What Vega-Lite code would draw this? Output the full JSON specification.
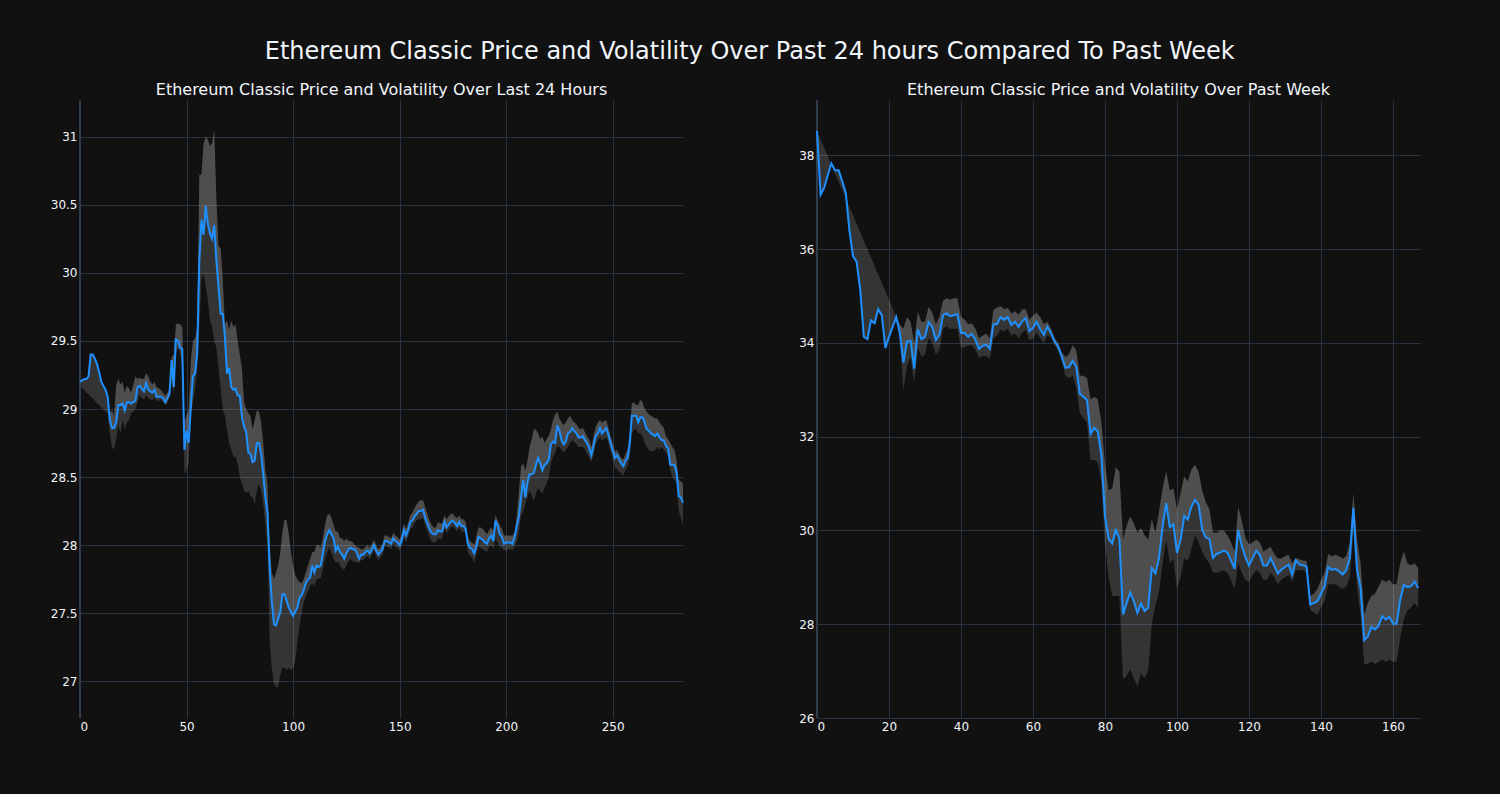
{
"$schema": "https://vega.github.io/schema/vega-lite/v6.json",
"background": "#111111",
"padding": {"left": 50, "top": 40, "right": 77, "bottom": 62},
"title": {"text": "Ethereum Classic Price and Volatility Over Past 24 hours Compared To Past Week", "fontSize": 24, "color": "#f2f5fa", "font": "DejaVu Sans", "fontWeight": "normal", "anchor": "middle", "offset": 18, "dx": 13.5},
"config": {
  "view": {"stroke": null},
  "font": "DejaVu Sans",
  "axis": {"grid": true, "gridColor": "#283442", "gridWidth": 1, "domain": false, "ticks": false, "labelColor": "#f2f5fa", "labelFontSize": 12, "title": null, "labelPadding": 3},
  "title": {"color": "#f2f5fa", "fontWeight": "normal"}
},
"spacing": 111,
"datasets": {
"h24": [
{"x":0,"p":29.20,"lo":29.17,"hi":29.20},{"x":1,"p":29.21,"lo":29.155,"hi":29.21},{"x":2,"p":29.22,"lo":29.14,"hi":29.22},{"x":3,"p":29.22,"lo":29.12,"hi":29.22},{"x":4,"p":29.24,"lo":29.11,"hi":29.24},{"x":5,"p":29.40,"lo":29.09,"hi":29.40},{"x":6,"p":29.40,"lo":29.08,"hi":29.40},{"x":7,"p":29.37,"lo":29.06,"hi":29.37},{"x":8,"p":29.33,"lo":29.04,"hi":29.33},{"x":9,"p":29.27,"lo":29.03,"hi":29.27},
{"x":10,"p":29.20,"lo":29.01,"hi":29.20},{"x":11,"p":29.17,"lo":29.00,"hi":29.17},{"x":12,"p":29.14,"lo":28.98,"hi":29.14},{"x":13,"p":29.09,"lo":28.97,"hi":29.09},{"x":14,"p":28.92,"lo":28.82,"hi":28.97},{"x":15,"p":28.86,"lo":28.72,"hi":28.99},{"x":16,"p":28.86,"lo":28.70,"hi":28.95},{"x":17,"p":28.90,"lo":28.78,"hi":29.18},{"x":18,"p":29.03,"lo":28.88,"hi":29.22},{"x":19,"p":29.03,"lo":28.82,"hi":29.18},
{"x":20,"p":29.04,"lo":28.92,"hi":29.20},{"x":21,"p":28.99,"lo":28.85,"hi":29.12},{"x":22,"p":29.05,"lo":28.90,"hi":29.17},{"x":23,"p":29.05,"lo":28.92,"hi":29.15},{"x":24,"p":29.04,"lo":28.97,"hi":29.12},{"x":25,"p":29.05,"lo":28.98,"hi":29.18},{"x":26,"p":29.06,"lo":29.00,"hi":29.24},{"x":27,"p":29.16,"lo":29.05,"hi":29.22},{"x":28,"p":29.17,"lo":29.10,"hi":29.23},{"x":29,"p":29.15,"lo":29.08,"hi":29.22},
{"x":30,"p":29.13,"lo":29.07,"hi":29.22},{"x":31,"p":29.19,"lo":29.10,"hi":29.26},{"x":32,"p":29.14,"lo":29.08,"hi":29.24},{"x":33,"p":29.13,"lo":29.07,"hi":29.20},{"x":34,"p":29.12,"lo":29.07,"hi":29.18},{"x":35,"p":29.14,"lo":29.08,"hi":29.20},{"x":36,"p":29.09,"lo":29.06,"hi":29.16},{"x":37,"p":29.09,"lo":29.06,"hi":29.15},{"x":38,"p":29.09,"lo":29.07,"hi":29.14},{"x":39,"p":29.08,"lo":29.05,"hi":29.12},
{"x":40,"p":29.05,"lo":29.03,"hi":29.10},{"x":41,"p":29.08,"lo":29.04,"hi":29.12},{"x":42,"p":29.11,"lo":29.08,"hi":29.14},{"x":43,"p":29.36,"lo":29.20,"hi":29.38},{"x":44,"p":29.16,"lo":29.12,"hi":29.40},{"x":45,"p":29.51,"lo":29.40,"hi":29.62},{"x":46,"p":29.50,"lo":29.45,"hi":29.63},{"x":47,"p":29.45,"lo":29.40,"hi":29.62},{"x":48,"p":29.44,"lo":29.30,"hi":29.60},{"x":49,"p":28.70,"lo":28.52,"hi":28.90},
{"x":50,"p":28.84,"lo":28.55,"hi":28.95},{"x":51,"p":28.75,"lo":28.60,"hi":29.00},{"x":52,"p":29.01,"lo":28.95,"hi":29.35},{"x":53,"p":29.24,"lo":29.05,"hi":29.50},{"x":54,"p":29.26,"lo":29.15,"hi":29.52},{"x":55,"p":29.41,"lo":29.30,"hi":29.60},{"x":56,"p":30.09,"lo":29.60,"hi":30.72},{"x":57,"p":30.39,"lo":29.95,"hi":30.72},{"x":58,"p":30.28,"lo":30.00,"hi":30.95},{"x":59,"p":30.49,"lo":29.90,"hi":31.00},
{"x":60,"p":30.36,"lo":29.80,"hi":30.98},{"x":61,"p":30.29,"lo":29.65,"hi":30.93},{"x":62,"p":30.25,"lo":29.60,"hi":30.95},{"x":63,"p":30.35,"lo":29.50,"hi":31.05},{"x":64,"p":30.09,"lo":29.45,"hi":30.55},{"x":65,"p":29.90,"lo":29.30,"hi":30.20},{"x":66,"p":29.70,"lo":29.15,"hi":30.18},{"x":67,"p":29.70,"lo":29.00,"hi":29.95},{"x":68,"p":29.53,"lo":28.95,"hi":29.62},{"x":69,"p":29.26,"lo":28.85,"hi":29.65},
{"x":70,"p":29.30,"lo":28.75,"hi":29.58},{"x":71,"p":29.16,"lo":28.70,"hi":29.65},{"x":72,"p":29.14,"lo":28.65,"hi":29.60},{"x":73,"p":29.15,"lo":28.65,"hi":29.62},{"x":74,"p":29.10,"lo":28.60,"hi":29.50},{"x":75,"p":29.10,"lo":28.50,"hi":29.40},{"x":76,"p":28.94,"lo":28.45,"hi":29.30},{"x":77,"p":28.87,"lo":28.40,"hi":29.05},{"x":78,"p":28.83,"lo":28.38,"hi":29.00},{"x":79,"p":28.68,"lo":28.40,"hi":28.97},
{"x":80,"p":28.67,"lo":28.36,"hi":28.95},{"x":81,"p":28.61,"lo":28.35,"hi":28.85},{"x":82,"p":28.62,"lo":28.30,"hi":28.92},{"x":83,"p":28.75,"lo":28.40,"hi":28.99},{"x":84,"p":28.75,"lo":28.45,"hi":28.98},{"x":85,"p":28.67,"lo":28.40,"hi":28.90},{"x":86,"p":28.52,"lo":28.30,"hi":28.75},{"x":87,"p":28.35,"lo":28.15,"hi":28.55},{"x":88,"p":28.23,"lo":28.00,"hi":28.45},{"x":89,"p":27.84,"lo":27.30,"hi":28.00},
{"x":90,"p":27.59,"lo":27.10,"hi":27.80},{"x":91,"p":27.42,"lo":26.98,"hi":27.75},{"x":92,"p":27.41,"lo":26.96,"hi":27.80},{"x":93,"p":27.46,"lo":26.96,"hi":27.85},{"x":94,"p":27.51,"lo":27.05,"hi":27.95},{"x":95,"p":27.64,"lo":27.10,"hi":28.10},{"x":96,"p":27.64,"lo":27.10,"hi":28.19},{"x":97,"p":27.59,"lo":27.08,"hi":28.18},{"x":98,"p":27.54,"lo":27.10,"hi":28.08},{"x":99,"p":27.51,"lo":27.08,"hi":27.95},
{"x":100,"p":27.48,"lo":27.10,"hi":27.85},{"x":101,"p":27.51,"lo":27.15,"hi":27.78},{"x":102,"p":27.54,"lo":27.28,"hi":27.75},{"x":103,"p":27.61,"lo":27.40,"hi":27.73},{"x":104,"p":27.63,"lo":27.50,"hi":27.72},{"x":105,"p":27.67,"lo":27.58,"hi":27.75},{"x":106,"p":27.72,"lo":27.62,"hi":27.80},{"x":107,"p":27.75,"lo":27.66,"hi":27.85},{"x":108,"p":27.76,"lo":27.70,"hi":27.90},{"x":109,"p":27.85,"lo":27.72,"hi":27.95},
{"x":110,"p":27.80,"lo":27.70,"hi":27.95},{"x":111,"p":27.85,"lo":27.75,"hi":28.00},{"x":112,"p":27.84,"lo":27.75,"hi":28.00},{"x":113,"p":27.85,"lo":27.76,"hi":27.98},{"x":114,"p":27.94,"lo":27.82,"hi":28.05},{"x":115,"p":28.03,"lo":27.90,"hi":28.15},{"x":116,"p":28.08,"lo":27.95,"hi":28.22},{"x":117,"p":28.11,"lo":27.98,"hi":28.23},{"x":118,"p":28.08,"lo":27.95,"hi":28.20},{"x":119,"p":28.05,"lo":27.90,"hi":28.15},
{"x":120,"p":27.96,"lo":27.87,"hi":28.10},{"x":121,"p":27.99,"lo":27.88,"hi":28.10},{"x":122,"p":27.95,"lo":27.85,"hi":28.05},{"x":123,"p":27.93,"lo":27.83,"hi":28.05},{"x":124,"p":27.90,"lo":27.82,"hi":28.03},{"x":125,"p":27.94,"lo":27.85,"hi":28.05},{"x":126,"p":27.97,"lo":27.88,"hi":28.03},{"x":127,"p":27.98,"lo":27.90,"hi":28.03},{"x":128,"p":27.97,"lo":27.88,"hi":28.02},{"x":129,"p":27.97,"lo":27.88,"hi":28.00},
{"x":130,"p":27.94,"lo":27.87,"hi":27.99},{"x":131,"p":27.90,"lo":27.87,"hi":27.98},{"x":132,"p":27.93,"lo":27.89,"hi":27.97},{"x":133,"p":27.93,"lo":27.89,"hi":27.97},{"x":134,"p":27.95,"lo":27.91,"hi":27.99},{"x":135,"p":27.96,"lo":27.92,"hi":28.00},{"x":136,"p":27.94,"lo":27.90,"hi":27.98},{"x":137,"p":27.97,"lo":27.93,"hi":28.01},{"x":138,"p":28.00,"lo":27.96,"hi":28.04},{"x":139,"p":27.96,"lo":27.92,"hi":28.00},
{"x":140,"p":27.93,"lo":27.89,"hi":27.97},{"x":141,"p":27.95,"lo":27.91,"hi":27.99},{"x":142,"p":27.97,"lo":27.93,"hi":28.01},{"x":143,"p":28.03,"lo":27.99,"hi":28.07},{"x":144,"p":28.03,"lo":27.99,"hi":28.07},{"x":145,"p":28.02,"lo":27.98,"hi":28.06},{"x":146,"p":28.01,"lo":27.97,"hi":28.05},{"x":147,"p":28.05,"lo":28.01,"hi":28.09},{"x":148,"p":28.03,"lo":27.99,"hi":28.07},{"x":149,"p":28.02,"lo":27.98,"hi":28.06},
{"x":150,"p":28.00,"lo":27.96,"hi":28.04},{"x":151,"p":28.03,"lo":27.99,"hi":28.08},{"x":152,"p":28.11,"lo":28.06,"hi":28.16},{"x":153,"p":28.07,"lo":28.02,"hi":28.12},{"x":154,"p":28.11,"lo":28.06,"hi":28.16},{"x":155,"p":28.17,"lo":28.12,"hi":28.22},{"x":156,"p":28.18,"lo":28.13,"hi":28.24},{"x":157,"p":28.21,"lo":28.16,"hi":28.27},{"x":158,"p":28.23,"lo":28.18,"hi":28.30},{"x":159,"p":28.25,"lo":28.19,"hi":28.32},
{"x":160,"p":28.25,"lo":28.19,"hi":28.33},{"x":161,"p":28.26,"lo":28.20,"hi":28.33},{"x":162,"p":28.20,"lo":28.14,"hi":28.28},{"x":163,"p":28.16,"lo":28.10,"hi":28.23},{"x":164,"p":28.12,"lo":28.06,"hi":28.18},{"x":165,"p":28.09,"lo":28.03,"hi":28.15},{"x":166,"p":28.08,"lo":28.02,"hi":28.13},{"x":167,"p":28.08,"lo":28.02,"hi":28.13},{"x":168,"p":28.11,"lo":28.05,"hi":28.17},{"x":169,"p":28.10,"lo":28.04,"hi":28.16},
{"x":170,"p":28.10,"lo":28.05,"hi":28.16},{"x":171,"p":28.17,"lo":28.12,"hi":28.22},{"x":172,"p":28.13,"lo":28.09,"hi":28.19},{"x":173,"p":28.15,"lo":28.11,"hi":28.21},{"x":174,"p":28.17,"lo":28.13,"hi":28.23},{"x":175,"p":28.18,"lo":28.14,"hi":28.23},{"x":176,"p":28.16,"lo":28.12,"hi":28.21},{"x":177,"p":28.14,"lo":28.10,"hi":28.20},{"x":178,"p":28.17,"lo":28.13,"hi":28.22},{"x":179,"p":28.14,"lo":28.10,"hi":28.19},
{"x":180,"p":28.14,"lo":28.10,"hi":28.19},{"x":181,"p":28.12,"lo":28.08,"hi":28.17},{"x":182,"p":28.01,"lo":27.95,"hi":28.06},{"x":183,"p":27.98,"lo":27.92,"hi":28.03},{"x":184,"p":27.97,"lo":27.91,"hi":28.02},{"x":185,"p":27.94,"lo":27.87,"hi":28.00},{"x":186,"p":27.99,"lo":27.93,"hi":28.06},{"x":187,"p":28.06,"lo":27.99,"hi":28.13},{"x":188,"p":28.05,"lo":27.98,"hi":28.13},{"x":189,"p":28.04,"lo":27.97,"hi":28.12},
{"x":190,"p":28.02,"lo":27.96,"hi":28.10},{"x":191,"p":28.01,"lo":27.95,"hi":28.08},{"x":192,"p":28.05,"lo":27.99,"hi":28.11},{"x":193,"p":28.07,"lo":28.00,"hi":28.13},{"x":194,"p":28.03,"lo":27.97,"hi":28.10},{"x":195,"p":28.18,"lo":28.05,"hi":28.22},{"x":196,"p":28.14,"lo":28.02,"hi":28.18},{"x":197,"p":28.08,"lo":27.99,"hi":28.15},{"x":198,"p":28.06,"lo":27.98,"hi":28.12},{"x":199,"p":28.01,"lo":27.96,"hi":28.07},
{"x":200,"p":28.02,"lo":27.96,"hi":28.07},{"x":201,"p":28.02,"lo":27.97,"hi":28.07},{"x":202,"p":28.02,"lo":27.97,"hi":28.07},{"x":203,"p":28.01,"lo":27.96,"hi":28.07},{"x":204,"p":28.06,"lo":27.99,"hi":28.10},{"x":205,"p":28.14,"lo":28.03,"hi":28.22},{"x":206,"p":28.21,"lo":28.10,"hi":28.40},{"x":207,"p":28.35,"lo":28.22,"hi":28.58},{"x":208,"p":28.48,"lo":28.25,"hi":28.60},{"x":209,"p":28.35,"lo":28.30,"hi":28.55},
{"x":210,"p":28.46,"lo":28.35,"hi":28.62},{"x":211,"p":28.52,"lo":28.40,"hi":28.72},{"x":212,"p":28.52,"lo":28.36,"hi":28.78},{"x":213,"p":28.53,"lo":28.33,"hi":28.85},{"x":214,"p":28.59,"lo":28.38,"hi":28.85},{"x":215,"p":28.64,"lo":28.42,"hi":28.82},{"x":216,"p":28.60,"lo":28.40,"hi":28.78},{"x":217,"p":28.55,"lo":28.38,"hi":28.80},{"x":218,"p":28.59,"lo":28.42,"hi":28.75},{"x":219,"p":28.60,"lo":28.45,"hi":28.78},
{"x":220,"p":28.63,"lo":28.50,"hi":28.80},{"x":221,"p":28.74,"lo":28.60,"hi":28.85},{"x":222,"p":28.76,"lo":28.65,"hi":28.92},{"x":223,"p":28.75,"lo":28.68,"hi":28.96},{"x":224,"p":28.88,"lo":28.72,"hi":28.98},{"x":225,"p":28.84,"lo":28.72,"hi":28.93},{"x":226,"p":28.77,"lo":28.70,"hi":28.90},{"x":227,"p":28.74,"lo":28.68,"hi":28.88},{"x":228,"p":28.76,"lo":28.70,"hi":28.90},{"x":229,"p":28.82,"lo":28.72,"hi":28.93},
{"x":230,"p":28.83,"lo":28.75,"hi":28.95},{"x":231,"p":28.86,"lo":28.77,"hi":28.92},{"x":232,"p":28.84,"lo":28.76,"hi":28.90},{"x":233,"p":28.82,"lo":28.74,"hi":28.89},{"x":234,"p":28.79,"lo":28.72,"hi":28.86},{"x":235,"p":28.79,"lo":28.72,"hi":28.85},{"x":236,"p":28.80,"lo":28.72,"hi":28.86},{"x":237,"p":28.77,"lo":28.70,"hi":28.83},{"x":238,"p":28.75,"lo":28.67,"hi":28.80},{"x":239,"p":28.71,"lo":28.64,"hi":28.77},
{"x":240,"p":28.66,"lo":28.61,"hi":28.72},{"x":241,"p":28.73,"lo":28.66,"hi":28.80},{"x":242,"p":28.80,"lo":28.74,"hi":28.87},{"x":243,"p":28.82,"lo":28.77,"hi":28.90},{"x":244,"p":28.86,"lo":28.79,"hi":28.92},{"x":245,"p":28.82,"lo":28.77,"hi":28.90},{"x":246,"p":28.84,"lo":28.78,"hi":28.91},{"x":247,"p":28.86,"lo":28.79,"hi":28.92},{"x":248,"p":28.81,"lo":28.75,"hi":28.86},{"x":249,"p":28.75,"lo":28.69,"hi":28.80},
{"x":250,"p":28.70,"lo":28.64,"hi":28.75},{"x":251,"p":28.64,"lo":28.57,"hi":28.69},{"x":252,"p":28.66,"lo":28.56,"hi":28.70},{"x":253,"p":28.63,"lo":28.54,"hi":28.67},{"x":254,"p":28.60,"lo":28.53,"hi":28.64},{"x":255,"p":28.58,"lo":28.51,"hi":28.63},{"x":256,"p":28.62,"lo":28.55,"hi":28.67},{"x":257,"p":28.64,"lo":28.58,"hi":28.70},{"x":258,"p":28.75,"lo":28.65,"hi":28.82},{"x":259,"p":28.95,"lo":28.82,"hi":29.04},
{"x":260,"p":28.95,"lo":28.85,"hi":29.05},{"x":261,"p":28.95,"lo":28.85,"hi":29.03},{"x":262,"p":28.90,"lo":28.82,"hi":29.03},{"x":263,"p":28.94,"lo":28.82,"hi":29.07},{"x":264,"p":28.94,"lo":28.80,"hi":29.05},{"x":265,"p":28.90,"lo":28.75,"hi":29.00},{"x":266,"p":28.85,"lo":28.72,"hi":28.98},{"x":267,"p":28.84,"lo":28.70,"hi":28.96},{"x":268,"p":28.82,"lo":28.69,"hi":28.95},{"x":269,"p":28.81,"lo":28.69,"hi":28.94},
{"x":270,"p":28.80,"lo":28.70,"hi":28.93},{"x":271,"p":28.82,"lo":28.72,"hi":28.93},{"x":272,"p":28.79,"lo":28.70,"hi":28.90},{"x":273,"p":28.77,"lo":28.72,"hi":28.88},{"x":274,"p":28.77,"lo":28.70,"hi":28.86},{"x":275,"p":28.73,"lo":28.68,"hi":28.80},{"x":276,"p":28.71,"lo":28.65,"hi":28.78},{"x":277,"p":28.59,"lo":28.55,"hi":28.75},{"x":278,"p":28.59,"lo":28.50,"hi":28.72},{"x":279,"p":28.59,"lo":28.48,"hi":28.70},
{"x":280,"p":28.53,"lo":28.45,"hi":28.62},{"x":281,"p":28.36,"lo":28.25,"hi":28.48},{"x":282,"p":28.35,"lo":28.20,"hi":28.47},{"x":283,"p":28.31,"lo":28.15,"hi":28.45}
],
"wk": [
{"x":0,"p":38.52,"lo":38.52,"hi":38.52},{"x":1,"p":37.16,"lo":38.34,"hi":37.16},{"x":2,"p":37.31,"lo":38.16,"hi":37.31},{"x":3,"p":37.58,"lo":37.98,"hi":37.58},{"x":4,"p":37.83,"lo":37.80,"hi":37.83},{"x":5,"p":37.68,"lo":37.62,"hi":37.68},{"x":6,"p":37.68,"lo":37.44,"hi":37.68},{"x":7,"p":37.45,"lo":37.26,"hi":37.45},{"x":8,"p":37.20,"lo":37.08,"hi":37.20},{"x":9,"p":36.40,"lo":36.90,"hi":36.40},
{"x":10,"p":35.85,"lo":36.72,"hi":35.85},{"x":11,"p":35.73,"lo":36.54,"hi":35.73},{"x":12,"p":35.14,"lo":36.36,"hi":35.14},{"x":13,"p":34.13,"lo":36.18,"hi":34.13},{"x":14,"p":34.08,"lo":36.00,"hi":34.08},{"x":15,"p":34.48,"lo":35.82,"hi":34.48},{"x":16,"p":34.42,"lo":35.64,"hi":34.42},{"x":17,"p":34.72,"lo":35.46,"hi":34.72},{"x":18,"p":34.59,"lo":35.28,"hi":34.59},{"x":19,"p":33.89,"lo":35.10,"hi":33.89},
{"x":20,"p":34.13,"lo":34.92,"hi":34.13},{"x":21,"p":34.34,"lo":34.74,"hi":34.34},{"x":22,"p":34.55,"lo":34.56,"hi":34.55},{"x":23,"p":34.21,"lo":34.10,"hi":34.40},{"x":24,"p":33.58,"lo":33.00,"hi":34.30},{"x":25,"p":34.03,"lo":33.50,"hi":34.55},{"x":26,"p":34.04,"lo":33.70,"hi":34.45},{"x":27,"p":33.45,"lo":33.15,"hi":34.00},{"x":28,"p":34.29,"lo":33.90,"hi":34.67},{"x":29,"p":34.08,"lo":33.70,"hi":34.45},
{"x":30,"p":34.13,"lo":33.75,"hi":34.45},{"x":31,"p":34.44,"lo":34.10,"hi":34.77},{"x":32,"p":34.34,"lo":34.00,"hi":34.65},{"x":33,"p":34.06,"lo":33.75,"hi":34.40},{"x":34,"p":34.17,"lo":33.85,"hi":34.55},{"x":35,"p":34.59,"lo":34.30,"hi":34.90},{"x":36,"p":34.63,"lo":34.35,"hi":34.95},{"x":37,"p":34.57,"lo":34.30,"hi":34.92},{"x":38,"p":34.59,"lo":34.30,"hi":34.95},{"x":39,"p":34.61,"lo":34.30,"hi":34.95},
{"x":40,"p":34.21,"lo":33.90,"hi":34.55},{"x":41,"p":34.21,"lo":33.90,"hi":34.50},{"x":42,"p":34.13,"lo":33.95,"hi":34.40},{"x":43,"p":34.19,"lo":33.95,"hi":34.42},{"x":44,"p":34.07,"lo":33.85,"hi":34.30},{"x":45,"p":33.87,"lo":33.68,"hi":34.10},{"x":46,"p":33.94,"lo":33.72,"hi":34.15},{"x":47,"p":33.96,"lo":33.72,"hi":34.20},{"x":48,"p":33.87,"lo":33.65,"hi":34.10},{"x":49,"p":34.40,"lo":34.10,"hi":34.70},
{"x":50,"p":34.40,"lo":34.15,"hi":34.75},{"x":51,"p":34.55,"lo":34.28,"hi":34.78},{"x":52,"p":34.49,"lo":34.25,"hi":34.72},{"x":53,"p":34.55,"lo":34.30,"hi":34.75},{"x":54,"p":34.38,"lo":34.15,"hi":34.62},{"x":55,"p":34.45,"lo":34.20,"hi":34.68},{"x":56,"p":34.34,"lo":34.10,"hi":34.60},{"x":57,"p":34.46,"lo":34.22,"hi":34.72},{"x":58,"p":34.53,"lo":34.28,"hi":34.72},{"x":59,"p":34.25,"lo":34.05,"hi":34.50},
{"x":60,"p":34.32,"lo":34.10,"hi":34.58},{"x":61,"p":34.45,"lo":34.22,"hi":34.65},{"x":62,"p":34.29,"lo":34.10,"hi":34.55},{"x":63,"p":34.17,"lo":34.00,"hi":34.40},{"x":64,"p":34.34,"lo":34.15,"hi":34.45},{"x":65,"p":34.21,"lo":34.12,"hi":34.30},{"x":66,"p":34.03,"lo":33.95,"hi":34.10},{"x":67,"p":33.92,"lo":33.82,"hi":34.00},{"x":68,"p":33.71,"lo":33.60,"hi":33.80},{"x":69,"p":33.47,"lo":33.30,"hi":33.70},
{"x":70,"p":33.48,"lo":33.25,"hi":33.75},{"x":71,"p":33.62,"lo":33.30,"hi":33.95},{"x":72,"p":33.49,"lo":33.05,"hi":33.85},{"x":73,"p":32.91,"lo":32.50,"hi":33.30},{"x":74,"p":32.85,"lo":32.40,"hi":33.30},{"x":75,"p":32.78,"lo":32.30,"hi":33.25},{"x":76,"p":32.06,"lo":31.50,"hi":32.80},{"x":77,"p":32.19,"lo":31.50,"hi":32.85},{"x":78,"p":32.11,"lo":31.45,"hi":32.80},{"x":79,"p":31.60,"lo":31.00,"hi":32.30},
{"x":80,"p":30.30,"lo":29.70,"hi":31.40},{"x":81,"p":29.82,"lo":29.00,"hi":30.85},{"x":82,"p":29.72,"lo":28.60,"hi":30.90},{"x":83,"p":30.01,"lo":28.60,"hi":31.35},{"x":84,"p":29.82,"lo":28.60,"hi":31.25},{"x":85,"p":28.21,"lo":26.82,"hi":29.80},{"x":86,"p":28.45,"lo":26.90,"hi":30.10},{"x":87,"p":28.68,"lo":27.04,"hi":30.30},{"x":88,"p":28.49,"lo":26.85,"hi":30.15},{"x":89,"p":28.24,"lo":26.68,"hi":29.95},
{"x":90,"p":28.44,"lo":26.95,"hi":30.05},{"x":91,"p":28.28,"lo":26.85,"hi":29.90},{"x":92,"p":28.35,"lo":27.00,"hi":29.80},{"x":93,"p":29.20,"lo":28.00,"hi":30.25},{"x":94,"p":29.08,"lo":28.40,"hi":29.95},{"x":95,"p":29.41,"lo":28.70,"hi":30.40},{"x":96,"p":30.09,"lo":29.30,"hi":30.90},{"x":97,"p":30.58,"lo":29.80,"hi":31.26},{"x":98,"p":30.07,"lo":29.30,"hi":30.85},{"x":99,"p":30.13,"lo":29.40,"hi":30.90},
{"x":100,"p":29.52,"lo":28.75,"hi":30.45},{"x":101,"p":29.80,"lo":29.00,"hi":30.80},{"x":102,"p":30.31,"lo":29.40,"hi":31.15},{"x":103,"p":30.23,"lo":29.35,"hi":31.05},{"x":104,"p":30.51,"lo":29.60,"hi":31.30},{"x":105,"p":30.65,"lo":29.90,"hi":31.40},{"x":106,"p":30.55,"lo":29.75,"hi":31.25},{"x":107,"p":30.01,"lo":29.55,"hi":30.85},{"x":108,"p":29.85,"lo":29.40,"hi":30.60},{"x":109,"p":29.82,"lo":29.30,"hi":30.45},
{"x":110,"p":29.41,"lo":29.10,"hi":29.95},{"x":111,"p":29.50,"lo":29.10,"hi":29.95},{"x":112,"p":29.53,"lo":29.12,"hi":30.00},{"x":113,"p":29.57,"lo":29.15,"hi":30.00},{"x":114,"p":29.53,"lo":29.10,"hi":29.90},{"x":115,"p":29.36,"lo":28.95,"hi":29.75},{"x":116,"p":29.18,"lo":28.75,"hi":29.55},{"x":117,"p":30.01,"lo":29.30,"hi":30.50},{"x":118,"p":29.67,"lo":29.10,"hi":30.20},{"x":119,"p":29.43,"lo":28.95,"hi":29.85},
{"x":120,"p":29.25,"lo":28.90,"hi":29.70},{"x":121,"p":29.41,"lo":29.05,"hi":29.75},{"x":122,"p":29.57,"lo":29.15,"hi":29.80},{"x":123,"p":29.48,"lo":29.10,"hi":29.75},{"x":124,"p":29.25,"lo":28.95,"hi":29.55},{"x":125,"p":29.25,"lo":28.95,"hi":29.60},{"x":126,"p":29.41,"lo":29.10,"hi":29.65},{"x":127,"p":29.25,"lo":29.00,"hi":29.50},{"x":128,"p":29.08,"lo":28.85,"hi":29.40},{"x":129,"p":29.16,"lo":28.95,"hi":29.40},
{"x":130,"p":29.22,"lo":29.00,"hi":29.45},{"x":131,"p":29.27,"lo":29.05,"hi":29.48},{"x":132,"p":29.06,"lo":28.90,"hi":29.30},{"x":133,"p":29.36,"lo":29.15,"hi":29.42},{"x":134,"p":29.27,"lo":29.15,"hi":29.38},{"x":135,"p":29.26,"lo":29.15,"hi":29.36},{"x":136,"p":29.23,"lo":29.10,"hi":29.35},{"x":137,"p":28.42,"lo":28.30,"hi":28.60},{"x":138,"p":28.45,"lo":28.25,"hi":28.65},{"x":139,"p":28.49,"lo":28.20,"hi":28.75},
{"x":140,"p":28.65,"lo":28.35,"hi":28.95},{"x":141,"p":28.81,"lo":28.50,"hi":29.10},{"x":142,"p":29.22,"lo":28.85,"hi":29.50},{"x":143,"p":29.16,"lo":28.85,"hi":29.45},{"x":144,"p":29.18,"lo":28.85,"hi":29.48},{"x":145,"p":29.13,"lo":28.80,"hi":29.45},{"x":146,"p":29.06,"lo":28.75,"hi":29.40},{"x":147,"p":29.15,"lo":28.80,"hi":29.45},{"x":148,"p":29.41,"lo":29.00,"hi":29.75},{"x":149,"p":30.48,"lo":30.00,"hi":30.80},
{"x":150,"p":29.16,"lo":28.80,"hi":29.80},{"x":151,"p":28.77,"lo":28.20,"hi":29.30},{"x":152,"p":27.66,"lo":27.15,"hi":28.20},{"x":153,"p":27.74,"lo":27.15,"hi":28.45},{"x":154,"p":27.94,"lo":27.20,"hi":28.60},{"x":155,"p":27.89,"lo":27.15,"hi":28.65},{"x":156,"p":27.97,"lo":27.20,"hi":28.80},{"x":157,"p":28.17,"lo":27.25,"hi":28.95},{"x":158,"p":28.10,"lo":27.20,"hi":28.90},{"x":159,"p":28.16,"lo":27.25,"hi":28.95},
{"x":160,"p":28.01,"lo":27.20,"hi":28.85},{"x":161,"p":28.01,"lo":27.20,"hi":28.85},{"x":162,"p":28.52,"lo":27.70,"hi":29.30},{"x":163,"p":28.84,"lo":28.10,"hi":29.55},{"x":164,"p":28.79,"lo":28.30,"hi":29.30},{"x":165,"p":28.81,"lo":28.35,"hi":29.25},{"x":166,"p":28.91,"lo":28.45,"hi":29.30},{"x":167,"p":28.77,"lo":28.35,"hi":29.20}
]
},
"hconcat": [
{
  "width": 603, "height": 618,
  "title": {"text": "Ethereum Classic Price and Volatility Over Last 24 Hours", "fontSize": 16, "offset": 1, "anchor": "middle"},
  "layer": [
    {"data": {"name": "h24"}, "mark": {"type": "area", "color": "#ffffff", "opacity": 0.15},
     "encoding": {
       "x": {"field": "x", "type": "quantitative", "scale": {"domain": [0, 283], "nice": false, "zero": false}, "axis": {"values": [0, 50, 100, 150, 200, 250]}},
       "y": {"field": "lo", "type": "quantitative", "scale": {"domain": [26.73, 31.27], "nice": false, "zero": false}, "axis": {"values": [27, 27.5, 28, 28.5, 29, 29.5, 30, 30.5, 31], "format": ".1~f"}},
       "y2": {"field": "p"}}},
    {"data": {"name": "h24"}, "mark": {"type": "area", "color": "#ffffff", "opacity": 0.26},
     "encoding": {"x": {"field": "x", "type": "quantitative"}, "y": {"field": "hi", "type": "quantitative"}, "y2": {"field": "p"}}},
    {"data": {"values": [{}]}, "mark": {"type": "rule", "color": "#2f3d4d", "strokeWidth": 2}, "encoding": {"x": {"datum": 0, "type": "quantitative"}}},
    {"data": {"name": "h24"}, "mark": {"type": "line", "color": "#1e90ff", "strokeWidth": 2},
     "encoding": {"x": {"field": "x", "type": "quantitative"}, "y": {"field": "p", "type": "quantitative"}}}
  ]
},
{
  "width": 603, "height": 618,
  "title": {"text": "Ethereum Classic Price and Volatility Over Past Week", "fontSize": 16, "offset": 1, "anchor": "middle"},
  "layer": [
    {"data": {"name": "wk"}, "mark": {"type": "area", "color": "#ffffff", "opacity": 0.15},
     "encoding": {
       "x": {"field": "x", "type": "quantitative", "scale": {"domain": [0, 167.5], "nice": false, "zero": false}, "axis": {"values": [0, 20, 40, 60, 80, 100, 120, 140, 160]}},
       "y": {"field": "lo", "type": "quantitative", "scale": {"domain": [26, 39.18], "nice": false, "zero": false}, "axis": {"values": [26, 28, 30, 32, 34, 36, 38]}},
       "y2": {"field": "p"}}},
    {"data": {"name": "wk"}, "mark": {"type": "area", "color": "#ffffff", "opacity": 0.26},
     "encoding": {"x": {"field": "x", "type": "quantitative"}, "y": {"field": "hi", "type": "quantitative"}, "y2": {"field": "p"}}},
    {"data": {"values": [{}]}, "mark": {"type": "rule", "color": "#2f3d4d", "strokeWidth": 2}, "encoding": {"x": {"datum": 0, "type": "quantitative"}}},
    {"data": {"name": "wk"}, "mark": {"type": "line", "color": "#1e90ff", "strokeWidth": 2},
     "encoding": {"x": {"field": "x", "type": "quantitative"}, "y": {"field": "p", "type": "quantitative"}}}
  ]
}
]
}
